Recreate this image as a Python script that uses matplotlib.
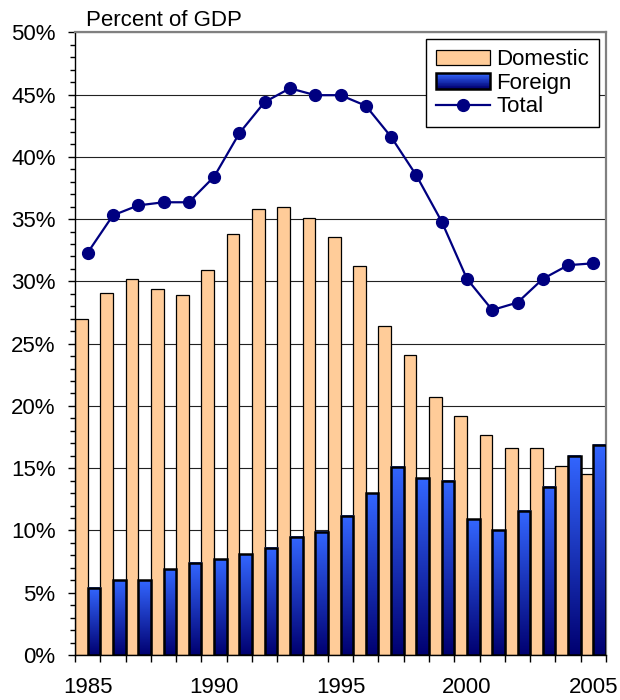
import numpy as np
import matplotlib
matplotlib.use('Agg')
import matplotlib.pyplot as plt
from matplotlib.colors import LinearSegmentedColormap
from matplotlib.patches import Rectangle, Patch
from matplotlib.lines import Line2D
from matplotlib.legend_handler import HandlerBase

plt.rcParams['font.family'] = ['Liberation Sans', 'DejaVu Sans']

years = list(range(1985, 2006))
domestic = [27.0, 29.1, 30.2, 29.4, 28.9, 30.9, 33.8, 35.8, 36.0, 35.1, 33.6,
            31.2, 26.4, 24.1, 20.7, 19.2, 17.7, 16.6, 16.6, 15.2, 14.5]
foreign = [5.4, 6.0, 6.0, 6.9, 7.4, 7.7, 8.1, 8.6, 9.5, 9.9, 11.2,
           13.0, 15.1, 14.2, 14.0, 10.9, 10.0, 11.6, 13.5, 16.0, 16.9]
total = [32.3, 35.3, 36.1, 36.35, 36.35, 38.4, 41.9, 44.4, 45.5, 44.95, 44.95,
         44.1, 41.6, 38.5, 34.8, 30.2, 27.7, 28.3, 30.2, 31.3, 31.45]
label_years = [1985, 1990, 1995, 2000, 2005]

peach = '#FFCC99'
navy = '#000080'
blue_cmap = LinearSegmentedColormap.from_list('fb', ['#000070', '#3366FF'])


class GradHandler(HandlerBase):
    # draws the legend box for the foreign series as a vertical gradient
    def create_artists(self, legend, orig_handle, xdescent, ydescent,
                       width, height, fontsize, trans):
        n = 20
        arts = []
        for i in range(n):
            arts.append(Rectangle((-xdescent, -ydescent + height * i / n), width, height / n,
                                  facecolor=blue_cmap(i / (n - 1)), edgecolor='none',
                                  transform=trans))
        arts.append(Rectangle((-xdescent, -ydescent), width, height, fill=False,
                              edgecolor='black', lw=1.8, transform=trans))
        return arts


fig = plt.figure(figsize=(6.2, 7), dpi=100)
ax = fig.add_axes([0.121, 0.0643, 0.8565, 0.8896])

n = len(years)
x = np.arange(n)
w = 0.5

# domestic bars (left half of each slot)
ax.bar(x, domestic, width=w, align='edge', color=peach, edgecolor='black',
       linewidth=0.9, zorder=2)

# foreign bars with vertical gradient (right half)
grad = np.linspace(1, 0, 256).reshape(-1, 1)
for i, v in enumerate(foreign):
    ax.imshow(grad, extent=[i + w, i + 1, 0, v], aspect='auto', cmap=blue_cmap,
              vmin=0, vmax=1, zorder=3)
    ax.add_patch(Rectangle((i + w, 0), w, v, fill=False, edgecolor='black',
                           linewidth=1.8, zorder=4))

ax.plot(x + 0.5, total, color=navy, lw=1.6, marker='o', markersize=8.5, zorder=5)

ax.set_xlim(0, n)
ax.set_ylim(0, 50)

# x ticks at slot boundaries, labels centred under slots
ax.set_xticks(np.arange(n + 1))
ax.set_xticklabels([])
ax.set_xticks([years.index(y) + 0.5 for y in label_years], minor=True)
ax.set_xticklabels([str(y) for y in label_years], minor=True)
ax.tick_params(axis='x', which='major', length=5, width=1, direction='out', color='black')
ax.tick_params(axis='x', which='minor', length=0, pad=16, labelsize=16)

ax.set_yticks(np.arange(0, 51, 5))
ax.set_yticklabels(['%d%%' % v for v in range(0, 51, 5)])
ax.set_yticks(np.arange(0, 51, 1), minor=True)
ax.tick_params(axis='y', which='major', length=5, width=1, pad=9, labelsize=16)
ax.tick_params(axis='y', which='minor', length=3.5, width=1)

ax.yaxis.grid(True, which='major', color='#222222', lw=0.8, zorder=0)
ax.set_axisbelow(True)

for s in ['top', 'right']:
    ax.spines[s].set_color('#808080')
    ax.spines[s].set_linewidth(1.6)
for s in ['left', 'bottom']:
    ax.spines[s].set_color('black')
    ax.spines[s].set_linewidth(1.0)

fig.text(86 / 620, 1 - 26 / 700, 'Percent of GDP', fontsize=16, va='baseline', ha='left')

handles = [Patch(facecolor=peach, edgecolor='black', linewidth=0.9),
           Patch(facecolor='#2244CC'),
           Line2D([], [], color=navy, lw=1.6, marker='o', markersize=8.5)]
foreign_handle = handles[1]
leg = ax.legend(handles, ['Domestic', 'Foreign', 'Total'], loc='upper right',
                bbox_to_anchor=(0.987, 0.989), borderaxespad=0, fontsize=16,
                handlelength=2.4, handletextpad=0.3, labelspacing=0.12,
                borderpad=0.45, fancybox=False, framealpha=1,
                handler_map={foreign_handle: GradHandler()})
leg.get_frame().set_edgecolor('black')
leg.get_frame().set_linewidth(1.0)
leg.set_zorder(6)

fig.savefig('out.png', dpi=100)
